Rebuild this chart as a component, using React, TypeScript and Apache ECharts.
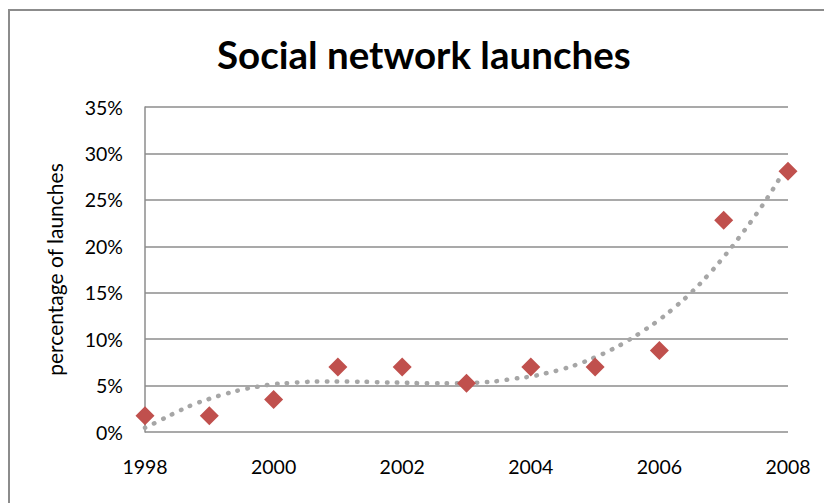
import React, { useEffect, useRef } from "react";
import * as echarts from "echarts";

const titleText = "Social network launches";
const yAxisName = "percentage of launches";
const years = [1998, 1999, 2000, 2001, 2002, 2003, 2004, 2005, 2006, 2007, 2008];
const launchPct = [1.75, 1.75, 3.5, 7.0, 7.0, 5.26, 7.0, 7.0, 8.77, 22.8, 28.07];
const trendX = [
  1998.0, 1998.25, 1998.5, 1998.75, 1999.0, 1999.25, 1999.5, 1999.75, 2000.0, 2000.25,
  2000.5, 2000.75, 2001.0, 2001.25, 2001.5, 2001.75, 2002.0, 2002.25, 2002.5, 2002.75,
  2003.0, 2003.25, 2003.5, 2003.75, 2004.0, 2004.25, 2004.5, 2004.75, 2005.0, 2005.25,
  2005.5, 2005.75, 2006.0, 2006.25, 2006.5, 2006.75, 2007.0, 2007.25, 2007.5, 2007.75, 2008.0,
];
const trendY = [
  0.45, 1.3, 2.17, 2.95, 3.57, 4.1, 4.55, 4.88, 5.15, 5.28,
  5.39, 5.45, 5.45, 5.43, 5.39, 5.34, 5.31, 5.26, 5.24, 5.24,
  5.28, 5.35, 5.5, 5.75, 5.98, 6.35, 6.79, 7.35, 8.05, 8.85,
  9.8, 10.9, 12.1, 13.5, 15.05, 16.85, 18.85, 21.05, 23.4, 25.97, 28.85,
];
const yTicks = { min: 0, max: 35, interval: 5 };
const xTicks = { min: 1998, max: 2008, interval: 2 };

export default function App() {
  const ref = useRef<HTMLDivElement>(null);
  useEffect(() => {
    if (!ref.current) return;
    const chart = echarts.init(ref.current, undefined, { renderer: "svg" });
    const font = "Lato, 'Open Sans', sans-serif";
    chart.setOption({
      animation: false,
      backgroundColor: "#ffffff",
      title: {
        text: titleText,
        left: 212,
        top: 29,
        textStyle: { fontFamily: font, fontSize: 38.5, fontWeight: "bold", color: "#000" },
      },
      graphic: [
        {
          type: "rect",
          shape: { x: 9, y: 10, width: 900, height: 600 },
          style: { fill: "none", stroke: "#8c8c8c", lineWidth: 2 },
          silent: true,
        },
      ],
      grid: { left: 145, right: 36, top: 107, bottom: 71 },
      xAxis: {
        type: "value",
        min: xTicks.min,
        max: xTicks.max,
        interval: xTicks.interval,
        axisLine: { show: false },
        axisTick: { show: false },
        splitLine: { show: false },
        axisLabel: {
          margin: 24,
          fontFamily: font,
          fontSize: 19.5,
          color: "#000",
          formatter: (v: number) => String(v),
        },
      },
      yAxis: {
        type: "value",
        min: yTicks.min,
        max: yTicks.max,
        interval: yTicks.interval,
        name: yAxisName,
        nameLocation: "middle",
        nameGap: 80,
        nameTextStyle: { fontFamily: font, fontSize: 21, color: "#000" },
        axisLine: { show: true, lineStyle: { color: "#8c8c8c", width: 1.5 } },
        axisTick: { show: false },
        splitLine: { show: true, lineStyle: { color: "#8c8c8c", width: 1.5 } },
        axisLabel: {
          margin: 22,
          fontFamily: font,
          fontSize: 19.5,
          color: "#000",
          formatter: (v: number) => v + "%",
        },
      },
      series: [
        {
          type: "line",
          data: trendX.map((x, i) => [x, trendY[i]]),
          smooth: true,
          showSymbol: false,
          symbol: "none",
          lineStyle: { color: "#a6a6a6", width: 4.5, type: [0.5, 9.5], cap: "round" },
          z: 2,
          silent: true,
        },
        {
          type: "scatter",
          data: years.map((y, i) => [y, launchPct[i]]),
          symbol: "diamond",
          symbolSize: 19,
          itemStyle: { color: "#c0504d", opacity: 1 },
          z: 3,
        },
      ],
    });
    return () => chart.dispose();
  }, []);
  return (
    <div
      ref={ref}
      style={{ position: "fixed", left: 0, top: 0, width: 824, height: 503 }}
    />
  );
}
